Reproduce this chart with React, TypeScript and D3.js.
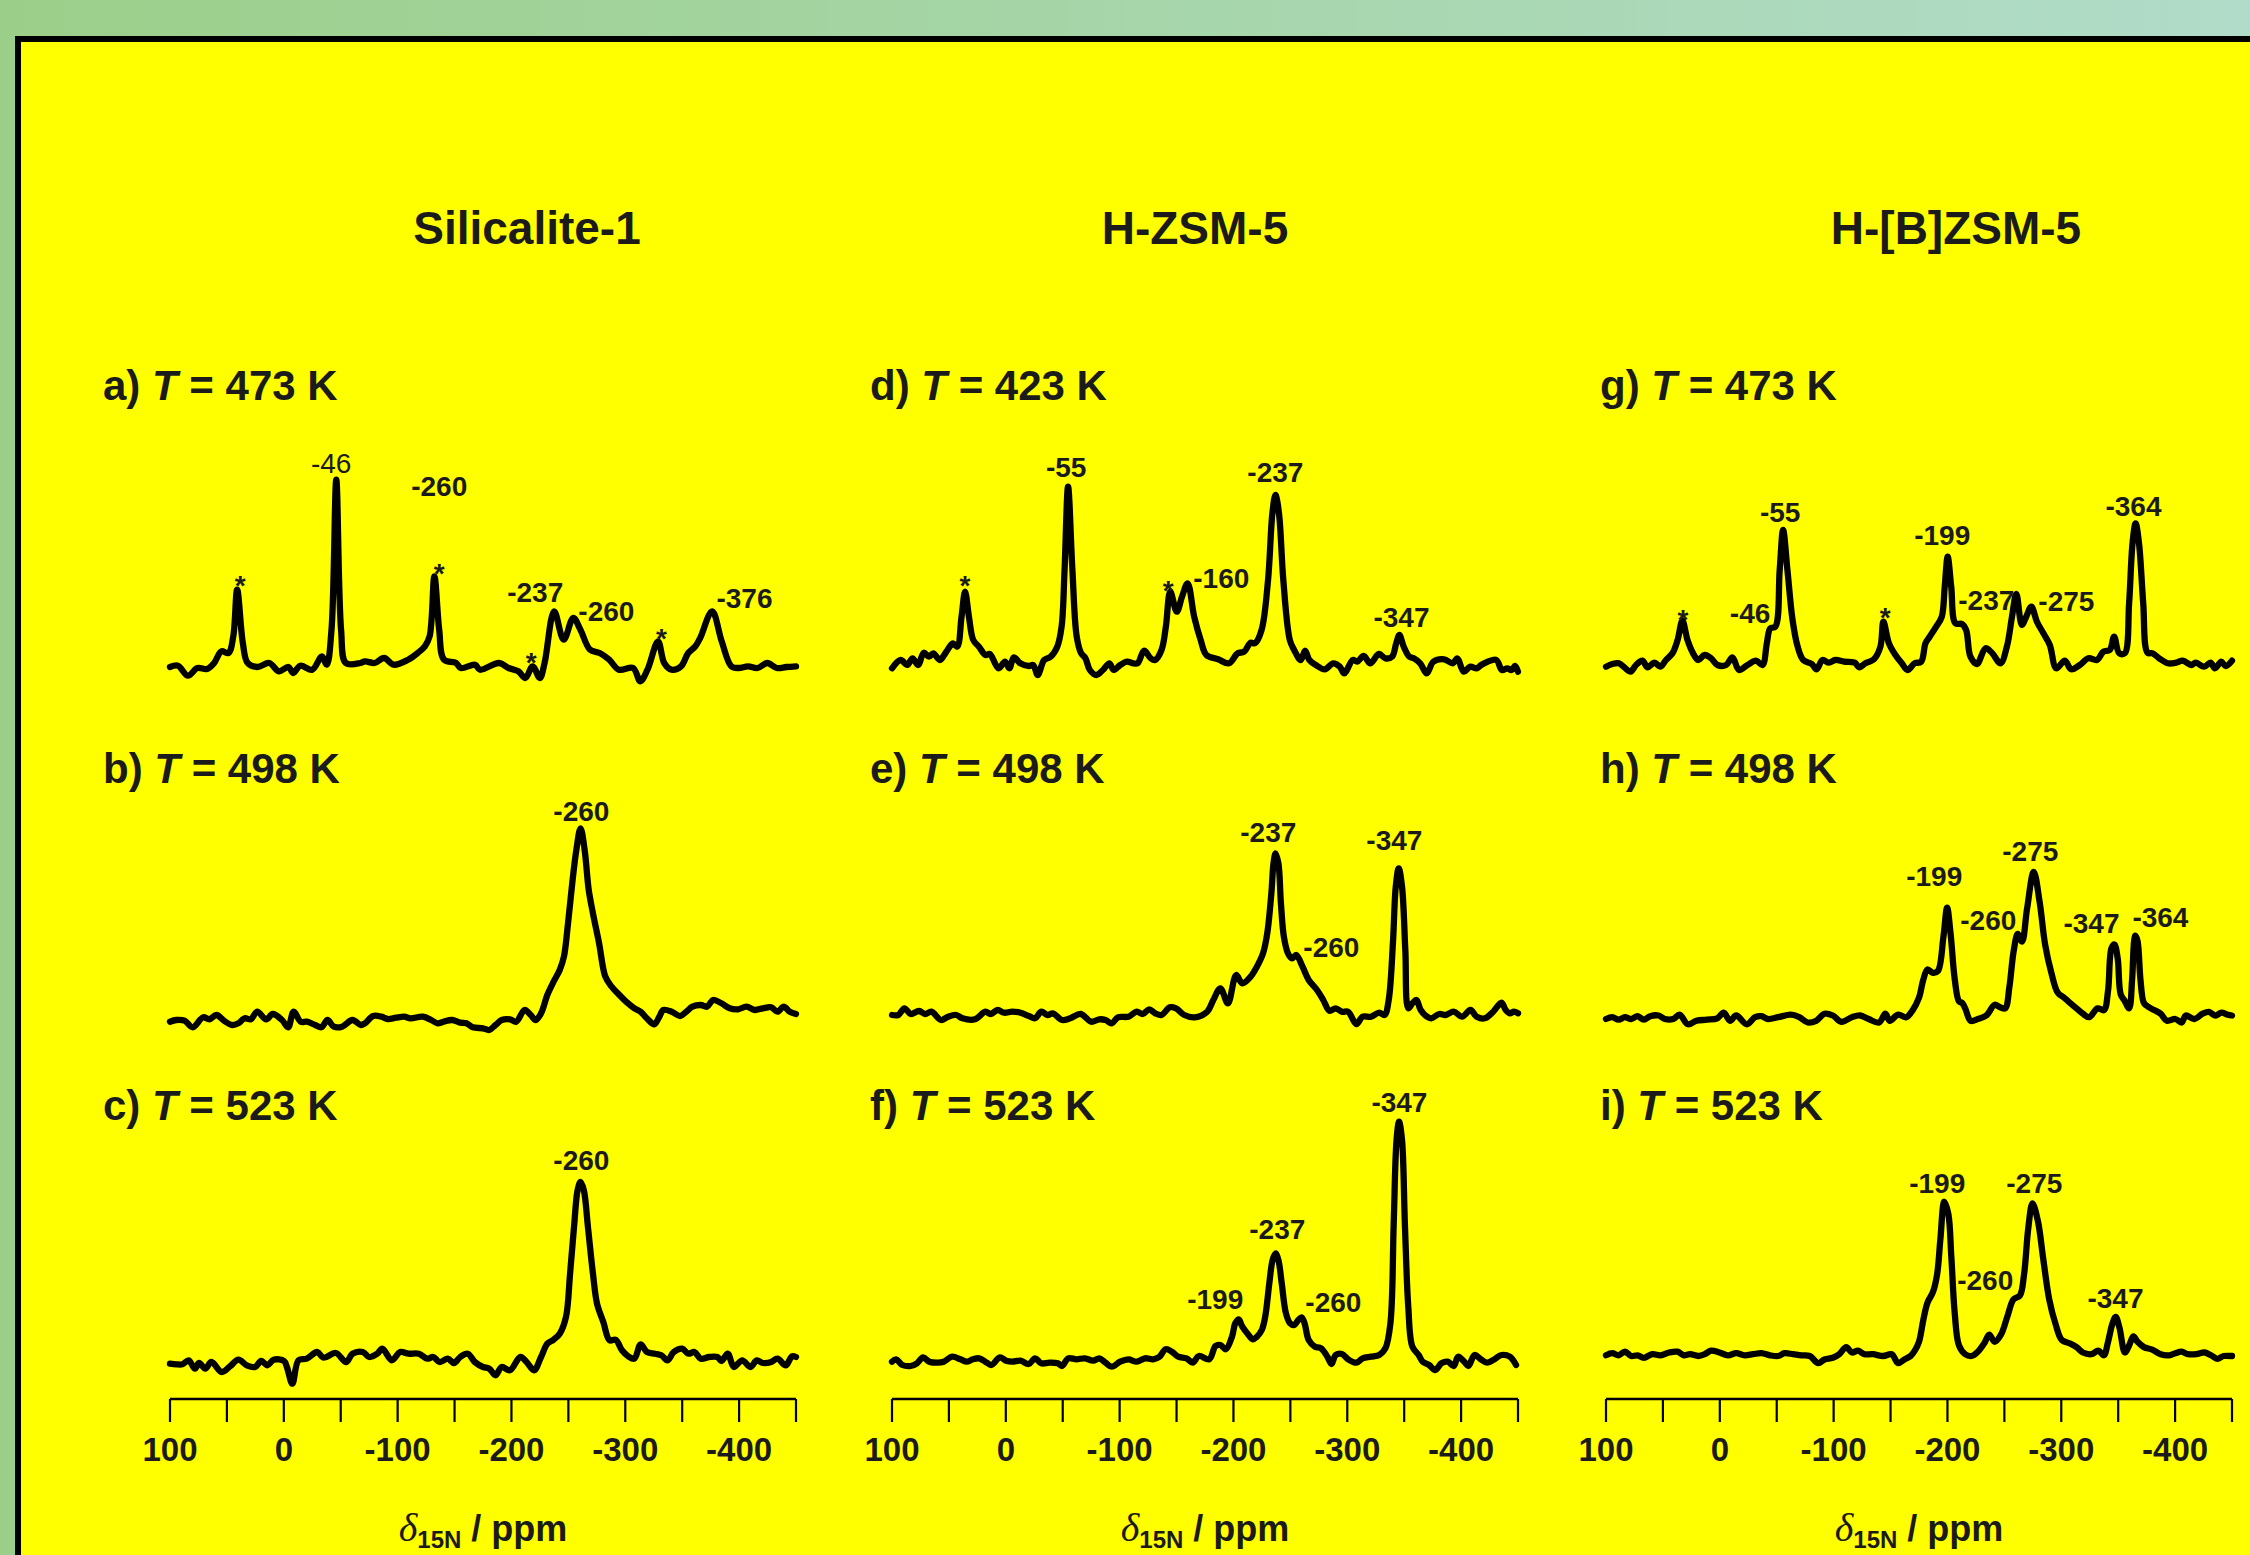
import React from "react";
import * as d3 from "d3";

type Pt = [number, number];
type Lbl = [string, number, number, number?];

// ---------- data ----------
const columnTitles = ["Silicalite-1", "H-ZSM-5", "H-[B]ZSM-5"];
const panelLetters = ["a", "b", "c", "d", "e", "f", "g", "h", "i"];
const panelTemps = [473, 498, 523, 423, 498, 523, 473, 498, 523];
const tickValues = [100, 50, 0, -50, -100, -150, -200, -250, -300, -350, -400, -450];
const tickLabelValues = [100, 0, -100, -200, -300, -400];
const ppmDomain: [number, number] = [100, -450];

const specA: Pt[] = [[100,0],[93,1.3],[84.3,-8.7],[75.9,-1],[67.5,-2],[61.2,4],[54.9,15.7],[48.6,14],[44.4,30.7],[41,77.3],[36,24],[31.8,4],[23.3,0],[12.8,4],[4.4,-4.3],[-4,0],[-8.2,-6],[-14.5,1.3],[-25,-2.7],[-33.5,10.7],[-37.7,2.3],[-41.9,37.3],[-46.1,187.3],[-50.3,37.3],[-54.5,4],[-67.1,4],[-71.3,5.7],[-79.7,4],[-88.1,9],[-96.6,2.3],[-109.2,7.3],[-117.6,14],[-123.9,20.7],[-128.1,30.7],[-132.3,90.7],[-136.5,37.3],[-140.7,7.3],[-151.3,4],[-155.5,-1],[-168.1,2.3],[-172.3,-2.7],[-189.1,4],[-197.5,-1],[-206,-4.3],[-212.3,-11],[-218.6,0.7],[-224.9,-11],[-229.1,4],[-237.5,55.7],[-245.9,27.3],[-254.3,49],[-260.6,37.3],[-269,17.3],[-277.5,14],[-285.9,7.3],[-294.3,-2.7],[-306.9,-1],[-313.2,-14.3],[-319.5,-2.7],[-328.8,25.7],[-334.2,4],[-340.6,-2.7],[-349,0.7],[-355.3,14],[-361.6,20.7],[-365.8,29],[-376.3,55.7],[-384.7,25.7],[-393.2,0.7],[-399.5,-1],[-407.9,0.7],[-416.3,-1],[-424.7,4],[-433.1,-1],[-441.5,0],[-450,0.7]];

const specB: Pt[] = [[100,-1.7],[94.5,0],[87.2,-0.7],[80,-7.3],[70.9,2.7],[65.4,0.7],[59.2,5],[52.6,-0.7],[45.4,-5],[39.9,-3.3],[34.4,1.7],[29,0.7],[23.5,8.3],[15.5,0.7],[9.7,6],[1.6,0],[-3.8,-7.3],[-8.6,8.3],[-14.8,-1.7],[-20.2,-1.7],[-27.5,-5],[-33,-7.3],[-38.4,0],[-43.9,-6.7],[-51.2,-6.7],[-60.3,0],[-67.6,-5],[-71.2,-3.3],[-78.5,4],[-85.8,3.3],[-91.3,1],[-98.5,2.3],[-105.8,3.3],[-111.3,1.7],[-122.2,3.3],[-129.5,0],[-135,-3.3],[-140.4,-1.7],[-147.7,0],[-155,-2.7],[-160.5,-3.3],[-165.9,-7.3],[-175,-8.3],[-180.5,-10],[-186,-5],[-191.4,0],[-198.7,0.7],[-204.2,-1.7],[-211.5,10],[-216.9,5],[-221.3,0],[-226,6.7],[-231.5,25],[-237,38.3],[-242.4,50],[-246.1,63.3],[-249.7,96.7],[-253.4,136.7],[-257,170],[-260.7,191.7],[-264.3,170],[-267.9,130],[-271.6,106.7],[-277,76.7],[-282.5,43.3],[-288,33.3],[-293.4,26.7],[-300.7,18.3],[-308,11.7],[-313.5,8.3],[-318.9,1.7],[-325.5,-4.3],[-329.9,3.3],[-333.5,10],[-340.8,8.3],[-348.1,4],[-353.6,8.3],[-359,13.3],[-366.3,15],[-371.8,13.3],[-377.2,20],[-384.5,16.7],[-391.8,11.7],[-399.1,10.7],[-406.4,13.3],[-413.7,10],[-420.9,11.7],[-428.2,12.7],[-433.7,8.3],[-439.2,13.3],[-444.6,8.3],[-450,6]];

const specC: Pt[] = [[100,-1.7],[94.5,-2.3],[89.1,-2.3],[83.6,1.7],[78.1,-6.7],[74.5,-1],[69,-6.7],[63.6,0],[54.5,-10],[47.2,-4.3],[39.9,2.3],[32.6,-3.3],[25.3,-5],[19.9,1],[14.4,-3.3],[8.9,2.3],[-0.2,1],[-2.7,-5],[-7.5,-21.7],[-12.9,1.7],[-20.2,3.3],[-29.3,10],[-34.8,4.3],[-45.7,9],[-54.8,0],[-60.3,8.3],[-69.4,10],[-74.9,5],[-82.1,8.3],[-86.5,13.3],[-94.9,1.7],[-102.2,10],[-109.5,8.3],[-118.6,8.3],[-125.9,3.3],[-131.3,5],[-136.8,0],[-144.1,3.3],[-149.5,-1],[-155,5],[-161.6,8.3],[-167.8,0],[-175,-5],[-180.5,-6.7],[-186,-13.3],[-191.4,-5],[-198.7,-8.3],[-207.8,5],[-213.3,0],[-219.9,-8.3],[-226,5],[-231.5,18.3],[-237,22.3],[-242.4,28.3],[-247.9,45],[-251.5,88.3],[-255.2,138.3],[-258.1,171.7],[-260.7,180],[-263.6,171.7],[-267.2,135],[-271.6,88.3],[-275.2,58.3],[-280.7,40],[-286.2,21.7],[-291.6,22.3],[-297.1,11.7],[-302.6,5.7],[-308,3.3],[-313.5,17.7],[-319,10],[-326.2,8.3],[-331.7,6.7],[-337.2,1.7],[-342.6,10],[-349.9,13.3],[-355.4,8.3],[-360.8,10],[-366.3,3.3],[-373.6,5],[-380.9,5],[-384.5,1],[-390,8.3],[-395.4,-5],[-402.7,1.7],[-410,-5],[-415.5,1.7],[-420.9,-1],[-428.2,0],[-433.7,3.3],[-441,-3.3],[-446.4,5.7],[-450,5]];

const specD: Pt[] = [[100,-3.3],[92.4,5],[86.6,0],[82,6.7],[77.1,0],[72.1,12.3],[67.5,8.3],[63.7,11.7],[58,5],[52.3,13.3],[46.5,21.7],[42.7,18.3],[38.9,48.3],[35.8,73.3],[32.4,48.3],[28.6,25],[23.6,18.3],[17.9,10],[14.1,11],[6.4,-3.3],[0.7,3.3],[-3.1,-3.3],[-7,7.7],[-12.7,1.7],[-20.3,-1],[-24.1,0],[-28,-10],[-33.7,5],[-39.4,8.3],[-45.2,18.3],[-49,38.3],[-51.6,95],[-54.7,178.3],[-58.5,95],[-62.3,28.3],[-66.2,11.7],[-70,6.7],[-73.8,-5],[-79.5,-10],[-85.3,-5],[-91,1.7],[-94.8,-5],[-100.5,0],[-106.3,3.3],[-112,1.7],[-115.8,1.7],[-121.5,14.3],[-127.3,6.7],[-131.1,5],[-136.8,15],[-140.6,38.3],[-144.5,73.3],[-150.2,53.3],[-154.8,68.3],[-159.7,81.7],[-165.5,48.3],[-171.2,25],[-176.2,10],[-186.5,5.7],[-196,1.7],[-203.7,11.7],[-209.4,13.3],[-215.1,22.3],[-218.9,21.7],[-224.7,35],[-230.4,85],[-234.2,151.7],[-236.9,170],[-240,151.7],[-243.8,85],[-249.5,25],[-253.3,15],[-259.1,5],[-262.9,14.3],[-266.7,5],[-272.4,0],[-280.1,-4.3],[-287.7,1.7],[-293.4,-1.7],[-297.3,-8.3],[-304.9,5],[-308.7,3.3],[-314.4,9],[-320.2,1.7],[-327.8,11],[-333.5,6.7],[-339.3,8.3],[-343,21.7],[-345.8,30],[-349.6,18.3],[-354.5,8.3],[-358.4,6.7],[-364.1,1.7],[-369.8,-8.3],[-375.6,3.3],[-385.1,5.7],[-392.7,1.7],[-396.6,6.7],[-402.3,-6.7],[-408,-1.7],[-413.8,-3.3],[-417.6,0],[-423.3,3.3],[-431,5],[-435.9,-5],[-440.5,-3.3],[-444.3,-5],[-447.4,-1],[-450,-6.7]];

const specE: Pt[] = [[100,0],[94.5,0],[89.1,6.7],[83.6,1],[76.3,4],[70.9,1],[65.4,3.3],[57,-5],[50.8,-1.7],[43.5,0],[38.1,-3.3],[27.1,-4.3],[18,3.3],[13.3,1],[7.1,5],[1.6,2.3],[-5.6,3.3],[-12.9,2.3],[-20.2,-1],[-25.7,-3.3],[-31.1,3.3],[-36.6,0],[-41.3,1.7],[-49.4,-5],[-56.6,-3.3],[-65.8,1],[-74.9,-6.7],[-82.1,-4.3],[-87.6,-5],[-93.1,-8.3],[-98.5,-2.3],[-107.7,-1.7],[-114.9,3.3],[-120.4,1],[-125.9,5.7],[-131.3,1.7],[-136.8,0],[-144.1,7.7],[-149.5,6.7],[-156.8,0],[-165.9,-2.3],[-176.9,3.3],[-182.3,15],[-188.5,26.7],[-195.1,11.7],[-202.4,40],[-207.8,31.7],[-215.1,38.3],[-220.6,48.3],[-226,61.7],[-229.7,81.7],[-233.3,121.7],[-235.2,151.7],[-237,161.7],[-239.5,151.7],[-241.7,111.7],[-244.3,78.3],[-247.9,61.7],[-251.5,56.7],[-255.2,60],[-260.7,48.3],[-266.1,35],[-273.4,25],[-278.9,15],[-284.3,4.3],[-289.8,6.7],[-295.3,3.3],[-300.7,3.3],[-308,-9],[-313.5,-1.7],[-320.8,-1.7],[-328.1,2.3],[-332.8,0],[-336.4,15],[-340.1,71.7],[-342.6,128.3],[-345.2,146.7],[-348.1,128.3],[-351,65],[-353.6,6.7],[-357.2,11.7],[-360.8,15],[-364.5,5],[-370,-1.7],[-373.6,-3.3],[-380.9,1],[-386.3,0],[-393.6,3.3],[-400.9,-1.7],[-408.2,5],[-413.7,-1.7],[-420.9,-3.3],[-428.2,3.3],[-435.5,12.3],[-439.2,5],[-442.8,1.7],[-446.4,3.3],[-450,1.7]];

const specF: Pt[] = [[100,-1.7],[96.4,0.7],[90.9,-5],[83.6,-6],[78.1,-3.3],[72.7,2.7],[67.2,-1.7],[59.9,-2.7],[54.5,-1.7],[47.2,3.3],[39.9,0.7],[34.4,-1.7],[29,0.7],[23.5,1.7],[18,-1.7],[12.6,-5],[5.3,2.7],[-0.2,-0.7],[-5.6,-1.7],[-12.9,-0.7],[-20.2,-4],[-25.7,1.7],[-31.1,-3.3],[-38.4,-2.7],[-45.7,-3.3],[-49.4,-6],[-54.8,1.7],[-62.1,0.7],[-69.4,1.7],[-76.7,-0.7],[-82.1,1.7],[-87.6,-2.7],[-93.1,-6.7],[-100.4,-1.7],[-107.7,0.7],[-114.9,-1.7],[-122.2,1.7],[-129.5,0.7],[-135,3.3],[-140.4,10.7],[-145.9,8.3],[-151.4,3.3],[-158.7,1.7],[-164.1,-2.7],[-169.6,4],[-178.7,0.7],[-184.2,14],[-188.5,15],[-193.3,10.7],[-198.7,23.3],[-201.6,36.7],[-204.6,40.7],[-207.8,33.3],[-213.3,25],[-216.9,20.7],[-220.6,23.3],[-224.9,30],[-227.9,43.3],[-231.5,76.7],[-234.4,100],[-237,106.7],[-239.5,100],[-242.4,76.7],[-246.1,46.7],[-249.7,36.7],[-253.4,35],[-257,40],[-259.9,42.7],[-262.5,36.7],[-266.1,20],[-271.6,13.3],[-277,11.7],[-282.5,3.3],[-286.2,-4],[-289.8,5],[-295.3,6],[-300.7,0.7],[-308,-2.7],[-313.5,1.7],[-320.8,3.3],[-328.1,5],[-333.5,11.7],[-337.9,36.7],[-340.8,136.7],[-343.3,220],[-345.5,238.3],[-348.1,220],[-350.6,136.7],[-353.6,53.3],[-357.2,13.3],[-362.7,5],[-366.3,-1.7],[-371.8,-5],[-377.2,-10],[-382.7,-3.3],[-388.2,-1.7],[-393.6,-6],[-397.3,3.3],[-402.7,-1.7],[-406.4,-6],[-411.8,5],[-417.3,0.7],[-422.8,-2.7],[-428.2,0],[-435.5,5],[-442.8,3.3],[-448.3,-5]];

const specG: Pt[] = [[100,-1.7],[94.3,1],[88.7,1.7],[83,-3.3],[78.5,-6.7],[73.6,0],[68,4.3],[63.5,-2.3],[57.4,2.3],[52.2,-1.7],[47.3,5],[41.6,11.7],[37.1,25],[32.9,44.3],[28.4,25],[23.5,11.7],[19,5],[13.4,10],[7.7,6.7],[2.1,0],[-5.5,0],[-11.1,7.7],[-16.8,-5],[-24.3,0],[-31.9,4.3],[-37.5,0],[-41.3,21.7],[-44.3,36.7],[-48.8,38.3],[-52.6,95],[-55.6,135],[-59.4,95],[-63.9,45],[-68.4,18.3],[-73.3,5],[-80.8,1],[-85,-4.3],[-90.2,5],[-95.9,2.3],[-101.5,5],[-109.1,3.3],[-118.5,2.3],[-122.3,-2.3],[-127.9,1.7],[-135.4,5.7],[-141.1,18.3],[-143.7,43.3],[-148.6,21.7],[-154.3,10],[-159.9,1.7],[-164.8,-5],[-171.2,1.7],[-176.9,3.3],[-180.7,21.7],[-184.4,28.3],[-190.1,38.3],[-195,48.3],[-197.6,78.3],[-200.2,108.3],[-203.3,78.3],[-207,41.7],[-212.7,41],[-216.4,35],[-220.2,8.3],[-225.9,1],[-233.4,16.7],[-239,12.3],[-246.6,1.7],[-252.2,18.3],[-256.7,48.3],[-260.5,71],[-265.4,40],[-269.2,48.3],[-273.7,58.3],[-278.6,43.3],[-284.3,31.7],[-289.9,20],[-295.6,-3.3],[-303.1,4.3],[-308.7,-4.3],[-316.3,0],[-323.8,6.7],[-331.3,5],[-337,13.3],[-342.6,15],[-346.4,28.3],[-350.9,11.7],[-355.8,11.7],[-359.6,61.7],[-362.6,121.7],[-365.3,141.7],[-368.3,121.7],[-372,61.7],[-375.8,12.3],[-380.3,11.7],[-386,6.7],[-393.5,1.7],[-401,2.3],[-406.7,4.3],[-414.2,0],[-418,2.3],[-425.5,-1.7],[-431.2,2.3],[-435,-3.3],[-440.6,3.3],[-444.4,-1],[-450,4.3]];

const specH: Pt[] = [[100,0],[94.5,1.8],[88.9,-0.7],[83.4,1.8],[77.9,0],[72.3,2.8],[66.8,-0.7],[61.2,2.8],[53.9,3.5],[48.3,0],[40.9,0],[35.4,4.3],[28,-5.3],[20.6,-1.8],[11.4,-0.7],[2.2,0.7],[-3.4,6.4],[-8.9,-1.8],[-14.4,3.5],[-23.7,-5.3],[-31,1.8],[-36.6,2.8],[-42.1,0],[-51.3,1.8],[-62.4,4.3],[-69.8,1.8],[-77.2,-3.5],[-84.6,-1.8],[-92,5.3],[-99.3,3.5],[-106.7,-2.8],[-116,1.8],[-123.3,3.5],[-130.7,0],[-139.9,-3.5],[-145.5,5.3],[-149.2,-1.8],[-156.6,4.3],[-163.9,1.8],[-169.5,8.9],[-175,21.3],[-178.7,39],[-182.4,49.6],[-187.2,46.1],[-191.6,47.9],[-196.4,81.6],[-199.7,111.3],[-202.7,85.8],[-206.4,39.7],[-210.1,17.7],[-213,16],[-215.6,10.6],[-220.4,-1.8],[-226.7,0],[-234.1,3.5],[-241.5,14.2],[-246.3,11.7],[-250.7,10.6],[-254.4,31.9],[-258.1,67.4],[-261.8,85.1],[-265.5,77.3],[-269.9,109.9],[-275.8,147.2],[-281,117],[-285.8,74.5],[-291.3,46.1],[-296.8,26.6],[-302.4,21.3],[-306.1,17.7],[-313.4,10.6],[-319,5.3],[-324.5,1.8],[-331.9,10.6],[-337.5,8.9],[-341.1,28.4],[-344.1,70.9],[-346.7,74.5],[-349.6,60.3],[-352.2,24.8],[-355.9,17.7],[-359.6,10.6],[-362.2,39],[-364,78],[-365.1,83.3],[-367,78],[-369.6,39],[-372.6,16],[-376.2,12.4],[-381.7,8.9],[-387.3,5.3],[-392.8,-1.8],[-400.2,0],[-405.7,-3.5],[-409.4,3.5],[-416.8,0],[-424.2,5.3],[-429.7,7.1],[-435.3,3.5],[-440.8,6.4],[-446.3,4.3],[-450,3.5]];

const specI: Pt[] = [[100,0.7],[94.5,2.8],[88.9,0.7],[83.4,4.3],[77.9,0],[72.3,0.7],[66.8,-1.8],[59.4,1.8],[52,0.7],[44.6,3.5],[37.2,4.3],[31.7,0.7],[26.2,1.8],[18.8,0],[13.3,1.8],[7.7,5.3],[0.3,3.5],[-7.1,0.7],[-14.4,2.8],[-21.8,0.7],[-29.2,1.8],[-36.6,2.8],[-44,0.7],[-51.3,0],[-56.9,2.8],[-64.3,1.8],[-71.7,0.7],[-79,0],[-86.4,-7.1],[-92,-3.5],[-99.3,-1.8],[-104.9,1.8],[-111.1,8.9],[-116,3.5],[-121.5,5.3],[-127,1.8],[-134.4,1.8],[-143.6,0],[-151,1.8],[-156.6,-7.1],[-162.1,-3.5],[-167.6,0],[-171.3,5.3],[-175,14.2],[-178.7,35.5],[-182.4,53.2],[-187.2,63.8],[-190.9,81.6],[-193.8,117],[-197.2,154.3],[-200.8,141.8],[-203.4,99.3],[-206.4,42.6],[-210.1,10.6],[-215.6,1.8],[-221.2,0],[-226.7,4.3],[-232.2,12.4],[-236.7,21.3],[-241.5,14.2],[-247,21.3],[-252.5,39],[-258.1,56.7],[-263.6,60.3],[-267.3,81.6],[-271,127.7],[-274.7,152.5],[-279.5,134.8],[-283.9,99.3],[-289.4,56.7],[-295,31.9],[-300.5,16],[-307.9,12.4],[-313.4,8.9],[-319,3.5],[-326.4,1.8],[-332.6,5.3],[-337.4,0.7],[-341.1,14.2],[-344.8,31.9],[-347.8,39],[-351.1,28.4],[-355.9,3.5],[-359.6,10.6],[-363.3,19.5],[-367,14.2],[-372.6,8.9],[-379.9,6.4],[-387.3,1.8],[-394.7,0.7],[-400.2,2.8],[-405.7,4.3],[-411.3,1.8],[-418.6,1.8],[-426,3.5],[-431.6,0.7],[-437.1,-2.8],[-442.6,0],[-450,0]];

// peak annotations: [text, ppm, intensity, fontWeight?]
const labelsA: Lbl[] = [["*",38.4,89],["-46",-41.6,204,400],["-260",-136.5,181],["*",-136.5,101],["-237",-220.9,75],["-260",-283.4,56],["*",-217.4,12],["*",-331.7,36],["-376",-404.7,69]];
const labelsB: Lbl[] = [["-260",-261.4,209]];
const labelsC: Lbl[] = [["-260",-261.4,202]];
const labelsD: Lbl[] = [["*",35.8,87],["-55",-53,198],["*",-142.7,82],["-160",-189.3,87],["-237",-236.8,193],["-347",-347.6,48]];
const labelsE: Lbl[] = [["-237",-230.6,183],["-347",-341.4,175],["-260",-286,68]];
const labelsF: Lbl[] = [["-347",-345.8,258],["-237",-238.5,131],["-199",-184,61],["-260",-287.8,58]];
const labelsG: Lbl[] = [["*",32.3,53],["-46",-26.6,52],["-55",-53,153],["*",-145.3,55],["-199",-195.4,130],["-237",-234.1,65],["-275",-304.5,64],["-364",-363.4,159]];
const labelsH: Lbl[] = [["-199",-188.4,143],["-275",-272.8,168],["-260",-235.9,99],["-347",-326.5,96],["-364",-387.1,102]];
const labelsI: Lbl[] = [["-199",-191,173],["-275",-276.3,173],["-260",-233.2,76],["-347",-347.6,58]];

const spectra = [specA, specB, specC, specD, specE, specF, specG, specH, specI];
const peakLabels = [labelsA, labelsB, labelsC, labelsD, labelsE, labelsF, labelsG, labelsH, labelsI];

// ---------- layout ----------
const W = 2250;
const H = 1555;
const colX = [170, 892, 1606];
const axisWidth = 626;
const baselines = [
  [667, 1020, 1362],
  [665, 1015, 1360],
  [665, 1019, 1356],
];
const panelLabelX = [103, 870, 1600];
const panelLabelY = [385, 768, 1105];
const titleX = [527, 1195, 1956];
const titleY = 244;
const axisY = 1399;
const FONT = "'Liberation Sans', Arial, Helvetica, sans-serif";
const INK = "#1b1b1b";

export default function App() {
  const cols = [0, 1, 2];
  const rows = [0, 1, 2];
  return (
    <div style={{ position: "absolute", left: 0, top: 0, width: W, height: H }}>
      <svg width={W} height={H} style={{ display: "block" }} fontFamily={FONT}>
        <defs>
          <linearGradient id="bgGrad" x1="0" y1="0" x2="1" y2="0">
            <stop offset="0" stopColor="#9bcf89" />
            <stop offset="1" stopColor="#b0dcc9" />
          </linearGradient>
        </defs>
        <rect x={0} y={0} width={W} height={H} fill="url(#bgGrad)" />
        <rect x={18} y={39} width={2400} height={1700} fill="#ffff00" stroke="#000" strokeWidth={6} />

        {cols.map((c) => {
          const x = d3.scaleLinear().domain(ppmDomain).range([colX[c], colX[c] + axisWidth]);
          const center = colX[c] + axisWidth / 2;
          return (
            <g key={"col" + c}>
              <text x={titleX[c]} y={titleY} textAnchor="middle" fontSize={46} fontWeight="bold" fill={INK}>
                {columnTitles[c]}
              </text>
              {rows.map((r) => {
                const idx = c * 3 + r;
                const base = baselines[c][r];
                const y = d3.scaleLinear().domain([0, 250]).range([base, base - 250]);
                const line = d3
                  .line<Pt>()
                  .x((d) => x(d[0]))
                  .y((d) => y(d[1]))
                  .curve(d3.curveCatmullRom.alpha(0.5));
                return (
                  <g key={"p" + idx}>
                    <text x={panelLabelX[c]} y={panelLabelY[r] + 15} fontSize={42} fontWeight="bold" fill={INK}>
                      <tspan>{panelLetters[idx] + ") "}</tspan>
                      <tspan fontStyle="italic">T</tspan>
                      <tspan>{" = " + panelTemps[idx] + " K"}</tspan>
                    </text>
                    <path
                      d={line(spectra[idx]) || ""}
                      fill="none"
                      stroke="#000"
                      strokeWidth={6.3}
                      strokeLinejoin="round"
                      strokeLinecap="round"
                    />
                    {peakLabels[idx].map((l, k) => {
                      const isStar = l[0] === "*";
                      const fs = 28;
                      return (
                        <text
                          key={k}
                          x={x(l[1])}
                          y={y(l[2]) + (isStar ? 0.6 * fs : 0.36 * fs)}
                          textAnchor="middle"
                          fontSize={fs}
                          fontWeight={l[3] ?? 700}
                          fill={INK}
                        >
                          {l[0]}
                        </text>
                      );
                    })}
                  </g>
                );
              })}
              <line x1={x(ppmDomain[0])} x2={x(ppmDomain[1])} y1={axisY} y2={axisY} stroke="#000" strokeWidth={2.5} />
              {tickValues.map((t) => (
                <line key={"t" + t} x1={x(t)} x2={x(t)} y1={axisY} y2={axisY + 23} stroke="#000" strokeWidth={2.2} />
              ))}
              {tickLabelValues.map((t) => (
                <text key={"tl" + t} x={x(t)} y={axisY + 62} textAnchor="middle" fontSize={33} fontWeight="bold" fill={INK}>
                  {String(t)}
                </text>
              ))}
              <text x={center} y={1541} textAnchor="middle" fontSize={36} fontWeight="bold" fill={INK}>
                <tspan fontFamily="'Liberation Serif', 'DejaVu Serif', serif" fontStyle="italic" fontWeight="normal" fontSize={40}>
                  δ
                </tspan>
                <tspan fontSize={24} dy={7}>15N</tspan>
                <tspan dy={-7}>{" / ppm"}</tspan>
              </text>
            </g>
          );
        })}
      </svg>
    </div>
  );
}
